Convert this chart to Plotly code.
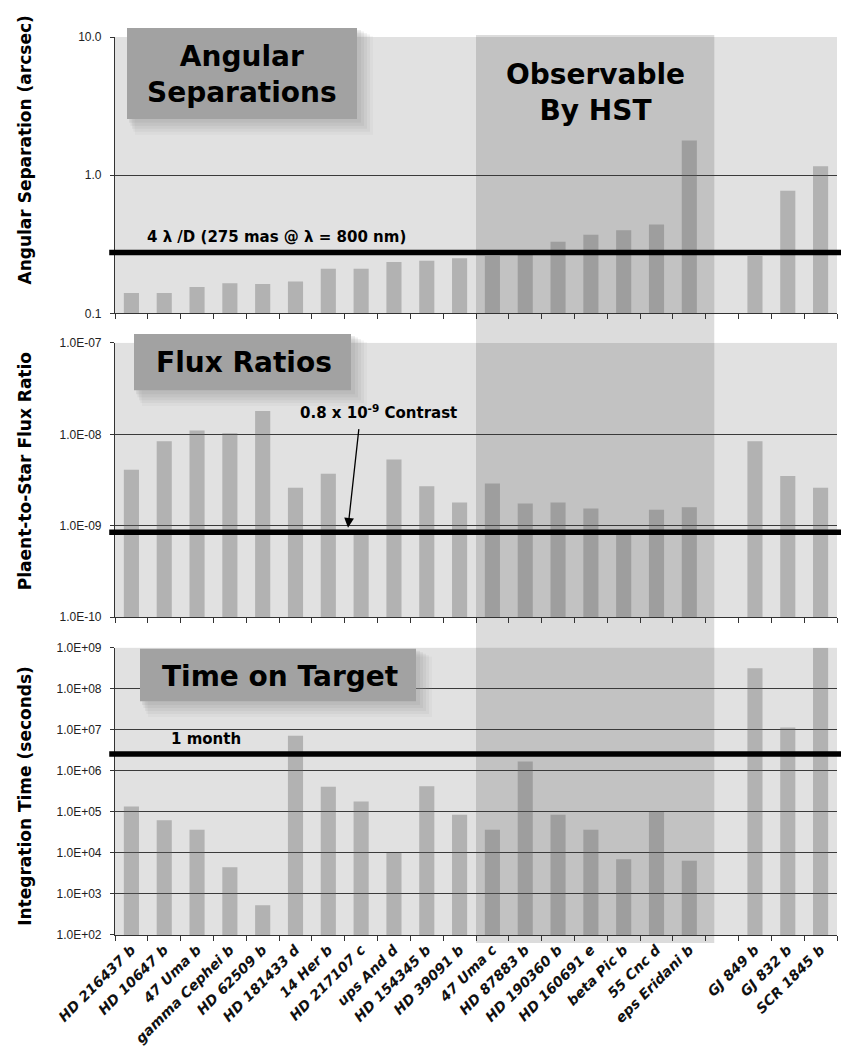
import math
import plotly.graph_objects as go

# ---------------- data ----------------
categories = ["HD 216437 b", "HD 10647 b", "47 Uma b", "gamma Cephei b", "HD 62509 b",
              "HD 181433 d", "14 Her b", "HD 217107 c", "ups And d", "HD 154345 b",
              "HD 39091 b", "47 Uma c", "HD 87883 b", "HD 190360 b", "HD 160691 e",
              "beta Pic b", "55 Cnc d", "eps Eridani b", " ", "GJ 849 b", "GJ 832 b",
              "SCR 1845 b"]
angular_sep = [0.14, 0.14, 0.155, 0.165, 0.163, 0.17, 0.21, 0.21, 0.235, 0.24, 0.25,
               0.26, 0.27, 0.33, 0.37, 0.40, 0.44, 1.78, None, 0.26, 0.77, 1.16]
flux_ratio = [4.1e-9, 8.4e-9, 1.1e-8, 1.03e-8, 1.8e-8, 2.6e-9, 3.7e-9, 0.9e-9, 5.3e-9,
              2.7e-9, 1.8e-9, 2.9e-9, 1.75e-9, 1.8e-9, 1.55e-9, 0.85e-9, 1.5e-9, 1.6e-9,
              None, 8.4e-9, 3.5e-9, 2.6e-9]
integration_time = [1.35e5, 6.3e4, 3.7e4, 4.5e3, 5.3e2, 7.2e6, 4.1e5, 1.8e5, 1.0e4, 4.2e5,
                    8.5e4, 3.7e4, 1.7e6, 8.5e4, 3.7e4, 7e3, 1.0e5, 6.5e3, None, 3.2e8,
                    1.15e7, 1e9]

sep_limit = 0.275          # 4 lambda/D
contrast_limit = 0.85e-9   # 0.8 x 10^-9 contrast line
month_limit = 2.6e6        # 1 month in seconds

sep_ticks = [0.1, 1, 10]
sep_ticktext = ["0.1", "1.0", "10.0"]
flux_ticks = [1e-10, 1e-9, 1e-8, 1e-7]
flux_ticktext = ["1.0E-10", "1.0E-09", "1.0E-08", "1.0E-07"]
time_ticks = [1e2, 1e3, 1e4, 1e5, 1e6, 1e7, 1e8, 1e9]
time_ticktext = ["1.0E+02", "1.0E+03", "1.0E+04", "1.0E+05", "1.0E+06",
                 "1.0E+07", "1.0E+08", "1.0E+09"]

hst_band = (10.5, 17.76)   # category-index span of the "Observable by HST" band

# ---------------- layout geometry ----------------
W, H = 841, 1050
ML, MR, MT, MB = 115, 4, 37, 103
PH = H - MT - MB
PW = W - ML - MR


def dom(top_px, bot_px):
    return [1 - (bot_px - MT) / PH, 1 - (top_px - MT) / PH]


def px_x(x):
    return (x - ML) / PW


def px_y(y):
    return 1 - (y - MT) / PH


d1, d2, d3 = dom(37, 317), dom(347, 625), dom(656, 947)

PLOT_BG = "#e1e1e1"
BAND_BG = "#c2c2c2"
BAR_COLOR = "rgba(95,95,95,0.36)"
GRID = "#3a3a3a"
TICKFONT = dict(family="Liberation Sans", size=12, color="#222")

fig = go.Figure()
for vals, n in [(angular_sep, ""), (flux_ratio, "2"), (integration_time, "3")]:
    fig.add_trace(go.Bar(x=categories, y=vals, xaxis="x" + n, yaxis="y" + n,
                         marker=dict(color=BAR_COLOR, line=dict(width=0)),
                         width=0.46, showlegend=False, hoverinfo="x+y"))


def xax(show, anchor):
    return dict(type="category", categoryorder="array", categoryarray=categories,
                range=[-0.5, 21.5], tickson="boundaries", ticks="outside", ticklen=5,
                tickcolor="#333", showline=True, linecolor="#333", linewidth=1.2,
                showgrid=False, showticklabels=show, tickangle=-45, anchor=anchor,
                tickfont=dict(family="DejaVu Sans", size=14, color="#111",
                              weight="bold", style="italic"))


def yax(domain, rng, tv, tt, anchor):
    return dict(type="log", domain=domain, range=rng, tickvals=tv, ticktext=tt,
                ticks="outside", ticklen=4, tickcolor="#333", showline=True,
                linecolor="#333", linewidth=1.2, showgrid=True, gridcolor=GRID,
                gridwidth=1.2, zeroline=False, tickfont=TICKFONT,
                ticklabelstandoff=6, anchor=anchor)


fig.update_layout(
    width=W, height=H, paper_bgcolor="white", plot_bgcolor=PLOT_BG,
    margin=dict(l=ML, r=MR, t=MT, b=MB), bargap=0.54, showlegend=False,
    xaxis=xax(False, "y"), xaxis2=xax(False, "y2"), xaxis3=xax(True, "y3"),
    yaxis=yax(d1, [-1, 1], sep_ticks, sep_ticktext, "x"),
    yaxis2=yax(d2, [-10, -7], flux_ticks, flux_ticktext, "x2"),
    yaxis3=yax(d3, [2, 9], time_ticks, time_ticktext, "x3"),
)

shapes = []
# light band across whole height (visible between panels)
shapes.append(dict(type="rect", xref="x3", yref="paper", x0=hst_band[0], x1=hst_band[1],
                   y0=px_y(955), y1=px_y(35), fillcolor="#dcdcdc", line=dict(width=0),
                   layer="below"))
# darker band inside each panel
for xr, d in [("x", d1), ("x2", d2), ("x3", d3)]:
    shapes.append(dict(type="rect", xref=xr, yref="paper", x0=hst_band[0], x1=hst_band[1],
                       y0=d[0], y1=d[1], fillcolor=BAND_BG, line=dict(width=0),
                       layer="below"))

# threshold lines
for yr, v in [("y", sep_limit), ("y2", contrast_limit), ("y3", month_limit)]:
    shapes.append(dict(type="line", xref="x domain", yref=yr, x0=-0.008, x1=1.01,
                       y0=v, y1=v, line=dict(color="black", width=5.5), layer="above"))

# title boxes with soft shadows
boxes = [  # (x0, y0, x1, y1) in pixels
    (127, 28, 357, 120),
    (134, 338, 351, 395),
    (140, 657, 416, 710),
]
for (x0, y0, x1, y1) in boxes:
    for k, op in [(16, 0.08), (13, 0.10), (10, 0.12), (7, 0.14), (4, 0.16)]:
        shapes.append(dict(type="rect", xref="paper", yref="paper",
                           x0=px_x(x0 + k * 0.5), x1=px_x(x1 + k), y0=px_y(y1 + k),
                           y1=px_y(y0 + k * 0.5),
                           fillcolor="rgba(150,150,150,%.2f)" % op, line=dict(width=0),
                           layer="above"))
    shapes.append(dict(type="rect", xref="paper", yref="paper",
                       x0=px_x(x0), x1=px_x(x1), y0=px_y(y1), y1=px_y(y0),
                       fillcolor="#a2a2a2", line=dict(width=0), layer="above"))
fig.update_layout(shapes=shapes)

BIG = dict(family="DejaVu Sans", size=28, color="black", weight="bold")
LBL = dict(family="DejaVu Sans", size=15, color="black", weight="bold")
AX = dict(family="DejaVu Sans", size=17, color="black", weight="bold")

C = dict(xanchor="center", yanchor="middle", showarrow=False)
ann = [
    dict(text="Angular<br>Separations", xref="paper", yref="paper", x=px_x(242), y=px_y(75),
         font=BIG, align="center", **C),
    dict(text="Observable<br>By HST", xref="x", yref="paper",
         x=(hst_band[0] + hst_band[1]) / 2, y=px_y(93), font=BIG, align="center", **C),
    dict(text="Flux Ratios", xref="paper", yref="paper", x=px_x(244), y=px_y(367),
         font=BIG, **C),
    dict(text="Time on Target", xref="paper", yref="paper", x=px_x(280), y=px_y(685),
         font=BIG, **C),
    dict(text="4 λ /D (275 mas @ λ = 800 nm)", xref="paper", yref="y", x=px_x(145),
         y=math.log10(sep_limit), xanchor="left", yanchor="bottom", yshift=5,
         showarrow=False, font=LBL),
    dict(text="1 month", xref="paper", yref="y3", x=px_x(169),
         y=math.log10(month_limit), xanchor="left", yanchor="bottom", yshift=4,
         showarrow=False, font=LBL),
    dict(text="0.8 x 10<sup>-9</sup> Contrast", xref="paper", yref="paper", x=px_x(298),
         y=px_y(417), xanchor="left", yanchor="middle", showarrow=False, font=LBL),
    dict(text="", xref="x2", yref="y2", x=6.6, y=math.log10(contrast_limit) + 0.05,
         ax=11, ay=-100, showarrow=True, arrowhead=2, arrowsize=1.5, arrowwidth=1.3,
         arrowcolor="black"),
    dict(text="Angular Separation (arcsec)", xref="paper", yref="paper", x=px_x(25),
         y=px_y(152), textangle=-90, font=AX, **C),
    dict(text="Plaent-to-Star Flux Ratio", xref="paper", yref="paper", x=px_x(25),
         y=px_y(477), textangle=-90, font=AX, **C),
    dict(text="Integration Time (seconds)", xref="paper", yref="paper", x=px_x(25),
         y=px_y(806), textangle=-90, font=AX, **C),
]
fig.update_layout(annotations=ann)

fig.write_html("out.html", config={"displayModeBar": False},
               post_script="document.body.style.margin='0px';")
